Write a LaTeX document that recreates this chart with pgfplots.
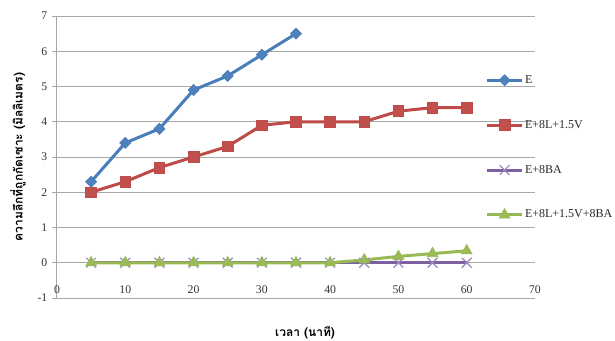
\documentclass[border=0pt]{standalone}
\usepackage{fontspec}
\usepackage{pgfplots}
\pgfplotsset{compat=1.18}
\setmainfont{Liberation Serif}
\newfontfamily\thaifont[Script=Thai]{Loma}

\definecolor{serE}{HTML}{4A7EBB}
\definecolor{serEfill}{HTML}{4F81BD}
\definecolor{serB}{HTML}{BE4B48}
\definecolor{serBfill}{HTML}{C0504D}
\definecolor{serC}{HTML}{7D60A0}
\definecolor{serCmark}{HTML}{9A86C2}
\definecolor{serD}{HTML}{98B954}
\definecolor{serDfill}{HTML}{9BBB59}
\definecolor{gridc}{HTML}{A8A8A8}

\begin{document}
\begin{tikzpicture}
\begin{axis}[
  scale only axis,
  width=358.5pt, height=211.5pt,
  xmin=0, xmax=70, ymin=-1, ymax=7,
  xtick={0,10,...,70}, ytick={-1,0,...,7},
  /pgf/number format/assume math mode=true,
  ymajorgrids,
  grid style={gridc, line width=0.75pt},
  axis x line*=bottom, axis y line*=left,
  axis line style={gridc, line width=0.75pt, -},
  tick align=outside, major tick length=3.75pt,
  xtick style={draw=none},
  ytick style={gridc, line width=0.75pt},
  tick label style={font=\fontsize{8.8}{10}\selectfont, text=black!80},
  xticklabel style={anchor=center, yshift=9.75pt},
  xlabel={\thaifont\bfseries เวลา (นาที)},
  ylabel={\thaifont\bfseries ความลึกที่ถูกกัดเซาะ (มิลลิเมตร)},
  xlabel style={at={(axis description cs:0.519,-0.122)}, anchor=center, font=\fontsize{9}{10}\selectfont},
  ylabel style={at={(axis description cs:-0.0816,0.5)}, anchor=center, font=\fontsize{9}{10}\selectfont},
  legend style={at={(axis cs:62.75,5.37)}, anchor=north west, draw=none, fill=none,
    inner sep=0pt, row sep=23.8pt, font=\fontsize{9}{11}\selectfont,
    nodes={inner sep=1.2pt, text=black!85}},
  legend cell align=left,
  legend image code/.code={\draw[mark repeat=2,mark phase=2] plot coordinates {(0pt,0pt) (13pt,0pt) (26pt,0pt)};},
]
\coordinate (O) at (rel axis cs:0,0);

% E
\addplot[serE, line width=2.25pt, mark=square*, mark size=2.9pt,
  mark options={rotate=45, fill=serEfill, draw=serE, line width=0.6pt, solid}]
  coordinates {(5,2.3) (10,3.4) (15,3.8) (20,4.9) (25,5.3) (30,5.9) (35,6.5)};
\addlegendentry{E}

% E+8L+1.5V
\addplot[serB, line width=2.25pt, mark=square*, mark size=4pt,
  mark options={fill=serBfill, draw=serB, line width=0.6pt, solid}]
  coordinates {(5,2.0) (10,2.3) (15,2.7) (20,3.0) (25,3.3) (30,3.9)
               (35,4.0) (40,4.0) (45,4.0) (50,4.3) (55,4.4) (60,4.4)};
\addlegendentry{E+8L+1.5V}

% E+8BA
\addplot[serC, line width=2.25pt, mark=x, mark size=5.2pt,
  mark options={draw=serCmark, line width=0.9pt, solid}]
  coordinates {(5,0) (10,0) (15,0) (20,0) (25,0) (30,0)
               (35,0) (40,0) (45,0) (50,0) (55,0) (60,0)};
\addlegendentry{E+8BA}

% E+8L+1.5V+8BA
\addplot[serD, line width=2.25pt, mark=triangle*, mark size=4.6pt,
  mark options={fill=serDfill, draw=serD, line width=0.6pt, solid}]
  coordinates {(5,0) (10,0) (15,0) (20,0) (25,0) (30,0)
               (35,0) (40,0) (45,0.08) (50,0.18) (55,0.26) (60,0.34)};
\addlegendentry{E+8L+1.5V+8BA}
\end{axis}
\pgfresetboundingbox
\path[use as bounding box] (O) ++(-42.75pt,-31.5pt) rectangle ++(461.25pt,255pt);
\end{tikzpicture}
\end{document}
